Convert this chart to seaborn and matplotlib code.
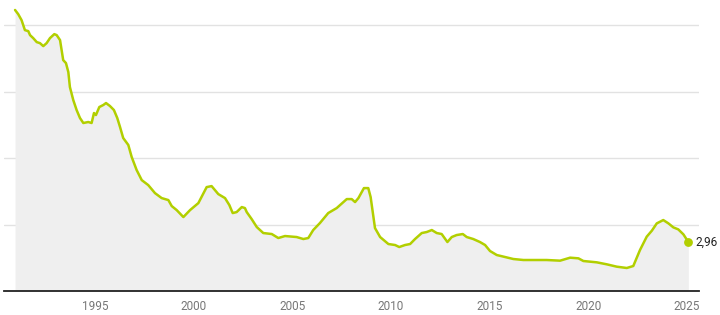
import matplotlib
matplotlib.use("Agg")
import matplotlib.pyplot as plt
import seaborn as sns
import pandas as pd

years = [1990.95, 1991.11, 1991.28, 1991.45, 1991.62, 1991.71, 1991.87, 1992.05, 1992.21, 1992.38,
         1992.55, 1992.72, 1992.94, 1993.06, 1993.23, 1993.39, 1993.53, 1993.65, 1993.73, 1993.90,
         1994.07, 1994.24, 1994.41, 1994.66, 1994.83, 1994.95, 1995.05, 1995.22, 1995.42, 1995.56,
         1995.76, 1995.96, 1996.13, 1996.27, 1996.43, 1996.69, 1996.86, 1997.11, 1997.37, 1997.70,
         1998.04, 1998.38, 1998.72, 1998.89, 1999.14, 1999.48, 1999.82, 2000.24, 2000.66, 2000.91,
         2001.25, 2001.59, 2001.81, 2001.98, 2002.18, 2002.44, 2002.60, 2002.69, 2002.94, 2003.20,
         2003.53, 2003.96, 2004.29, 2004.63, 2005.22, 2005.56, 2005.81, 2006.06, 2006.40, 2006.82,
         2007.25, 2007.76, 2008.01, 2008.18, 2008.35, 2008.63, 2008.85, 2008.97, 2009.19, 2009.45,
         2009.87, 2010.21, 2010.42, 2010.71, 2010.97, 2011.22, 2011.56, 2011.81, 2012.07, 2012.32,
         2012.57, 2012.86, 2013.08, 2013.33, 2013.64, 2013.84, 2014.17, 2014.51, 2014.77, 2015.02,
         2015.36, 2015.78, 2016.20, 2016.71, 2017.22, 2017.89, 2018.57, 2019.08, 2019.50, 2019.75,
         2020.43, 2020.94, 2021.44, 2021.95, 2022.28, 2022.62, 2022.96, 2023.22, 2023.47, 2023.80,
         2024.06, 2024.31, 2024.56, 2024.82, 2025.07]
rates = [16.90, 16.65, 16.29, 15.69, 15.63, 15.39, 15.21, 14.97, 14.91, 14.73,
         14.91, 15.21, 15.45, 15.39, 15.09, 13.89, 13.71, 13.17, 12.27, 11.49,
         10.89, 10.41, 10.11, 10.17, 10.11, 10.71, 10.59, 11.07, 11.19, 11.31,
         11.13, 10.89, 10.41, 9.87, 9.21, 8.79, 8.07, 7.29, 6.68, 6.38,
         5.90, 5.60, 5.48, 5.12, 4.88, 4.46, 4.88, 5.30, 6.26, 6.32,
         5.84, 5.60, 5.18, 4.70, 4.76, 5.06, 5.00, 4.76, 4.34, 3.86,
         3.50, 3.44, 3.20, 3.32, 3.26, 3.14, 3.20, 3.68, 4.10, 4.70,
         5.00, 5.54, 5.54, 5.36, 5.60, 6.20, 6.20, 5.66, 3.80, 3.26,
         2.84, 2.78, 2.66, 2.78, 2.84, 3.14, 3.50, 3.56, 3.68, 3.50,
         3.44, 2.96, 3.26, 3.38, 3.44, 3.26, 3.14, 2.96, 2.78, 2.42,
         2.18, 2.06, 1.94, 1.88, 1.88, 1.88, 1.84, 2.02, 1.98, 1.82,
         1.74, 1.62, 1.48, 1.40, 1.52, 2.48, 3.28, 3.64, 4.08, 4.28,
         4.08, 3.84, 3.72, 3.42, 2.96]
xticks = [1995, 2000, 2005, 2010, 2015, 2020, 2025]
gridlines = [4, 8, 12, 16]
last_label = "2,96"

df = pd.DataFrame({"year": years, "rate": rates})

sns.set_style("white")
plt.rcParams["font.family"] = ["Roboto", "DejaVu Sans"]

LINE = "#b2cf00"
fig = plt.figure(figsize=(7.2, 3.15), dpi=100)
ax = fig.add_axes([4 / 720, 23.7 / 315, 695 / 720, 291.3 / 315])

for g in gridlines:
    ax.axhline(g, color="#e2e2e2", lw=1, zorder=0)

ax.fill_between(df["year"], df["rate"], 0, color="#efefef", lw=0, zorder=1)
sns.lineplot(data=df, x="year", y="rate", ax=ax, color=LINE, lw=1.8, zorder=3)
ax.scatter([years[-1]], [rates[-1]], s=40, color=LINE, zorder=4, lw=0)
ax.annotate(last_label, (years[-1], rates[-1]), xytext=(5, 0), textcoords="offset points",
            ha="left", va="center", fontsize=8.5, color="#222222", annotation_clip=False)

ax.set_xlim(1990.39, 2025.61)
ax.set_ylim(0, 17.5)
ax.set_xticks(xticks)
ax.set_xticklabels([str(t) for t in xticks])
ax.set_yticks([])
ax.set_xlabel("")
ax.set_ylabel("")
ax.tick_params(axis="x", length=0, pad=6, labelsize=8.5, labelcolor="#777777")
for s in ["top", "right", "left"]:
    ax.spines[s].set_visible(False)
ax.spines["bottom"].set_color("#222222")
ax.spines["bottom"].set_linewidth(1.3)
ax.patch.set_alpha(0)

fig.savefig("out.png", dpi=100)
